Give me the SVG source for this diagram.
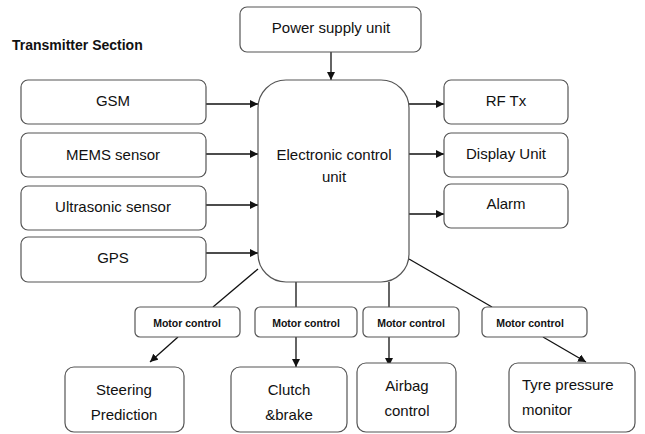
<svg xmlns="http://www.w3.org/2000/svg" width="645" height="434" viewBox="0 0 645 434">
<style>
.box{fill:#fff;stroke:#555;stroke-width:1.2}
.t{font-family:"Liberation Sans",Arial,sans-serif;font-size:15px;fill:#111;text-anchor:middle}
.m{font-family:"Liberation Sans",Arial,sans-serif;font-size:10.5px;font-weight:bold;fill:#111;text-anchor:middle}
.ln{stroke:#111;stroke-width:1.3;fill:none}
.ar{stroke:#111;stroke-width:1.3;fill:none;marker-end:url(#ah)}
</style>
<defs>
<marker id="ah" viewBox="0 0 10 10" refX="10" refY="5" markerWidth="8" markerHeight="8" markerUnits="userSpaceOnUse" orient="auto">
<path d="M0,0 L10,5 L0,10 z" fill="#111"/>
</marker>
</defs>
<rect width="645" height="434" fill="#fff"/>
<text x="12" y="50" style="font-family:'Liberation Sans',Arial,sans-serif;font-size:14px;font-weight:bold;fill:#111">Transmitter Section</text>

<g id="connectors">
<line class="ar" x1="331" y1="52" x2="331" y2="80"/>
<line class="ar" x1="206" y1="104" x2="258" y2="104"/>
<line class="ar" x1="206" y1="154" x2="258" y2="154"/>
<line class="ar" x1="206" y1="205" x2="258" y2="205"/>
<line class="ar" x1="206" y1="253" x2="258" y2="253"/>
<line class="ar" x1="409" y1="104" x2="444" y2="104"/>
<line class="ar" x1="409" y1="154" x2="444" y2="154"/>
<line class="ar" x1="409" y1="214" x2="444" y2="214"/>
<line class="ln" x1="258" y1="269" x2="213" y2="307"/>
<line class="ar" x1="178" y1="337" x2="150" y2="362"/>
<line class="ln" x1="296" y1="282" x2="296" y2="307"/>
<line class="ar" x1="296" y1="337" x2="296" y2="367"/>
<line class="ln" x1="389" y1="282" x2="389" y2="307"/>
<line class="ar" x1="389" y1="337" x2="389" y2="366"/>
<line class="ln" x1="409" y1="259" x2="492" y2="307"/>
<line class="ar" x1="543" y1="337" x2="586" y2="362"/>
</g>

<g id="power"><rect class="box" x="240" y="7" width="181" height="45" rx="7"/><text class="t" x="331" y="33">Power supply unit</text></g>
<g id="ecu"><rect class="box" x="258" y="80" width="151" height="202" rx="28"/><text class="t" x="334" y="160">Electronic control</text><text class="t" x="334" y="182">unit</text></g>

<g id="gsm"><rect class="box" x="21" y="80" width="185" height="44" rx="7"/><text class="t" x="113" y="106">GSM</text></g>
<g id="mems"><rect class="box" x="21" y="133" width="185" height="44" rx="7"/><text class="t" x="113" y="160">MEMS sensor</text></g>
<g id="ultrasonic"><rect class="box" x="21" y="186" width="185" height="44" rx="7"/><text class="t" x="113" y="212">Ultrasonic sensor</text></g>
<g id="gps"><rect class="box" x="21" y="237" width="185" height="45" rx="7"/><text class="t" x="113" y="263">GPS</text></g>

<g id="rftx"><rect class="box" x="444" y="80" width="124" height="44" rx="7"/><text class="t" x="506" y="106">RF Tx</text></g>
<g id="display"><rect class="box" x="444" y="133" width="124" height="44" rx="7"/><text class="t" x="506" y="159">Display Unit</text></g>
<g id="alarm"><rect class="box" x="444" y="184" width="124" height="44" rx="7"/><text class="t" x="506" y="209">Alarm</text></g>

<g id="mc1"><rect class="box" x="135" y="307" width="105" height="30" rx="5"/><text class="m" x="187" y="327">Motor control</text></g>
<g id="mc2"><rect class="box" x="255" y="307" width="102" height="30" rx="5"/><text class="m" x="306" y="327">Motor control</text></g>
<g id="mc3"><rect class="box" x="363" y="307" width="96" height="30" rx="5"/><text class="m" x="411" y="327">Motor control</text></g>
<g id="mc4"><rect class="box" x="482" y="307" width="105" height="30" rx="5"/><text class="m" x="530" y="327">Motor control</text></g>

<g id="steering"><rect class="box" x="65" y="367" width="119" height="65" rx="9"/><text class="t" x="124" y="395">Steering</text><text class="t" x="124" y="420">Prediction</text></g>
<g id="clutch"><rect class="box" x="231" y="367" width="116" height="65" rx="9"/><text class="t" x="289" y="395">Clutch</text><text class="t" x="289" y="420">&amp;brake</text></g>
<g id="airbag"><rect class="box" x="357" y="363" width="99" height="69" rx="9"/><text class="t" x="407" y="391">Airbag</text><text class="t" x="407" y="416">control</text></g>
<g id="tyre"><rect class="box" x="509" y="363" width="126" height="69" rx="9"/><text class="t" x="522" y="390" style="text-anchor:start">Tyre pressure</text><text class="t" x="522" y="415" style="text-anchor:start">monitor</text></g>
</svg>
